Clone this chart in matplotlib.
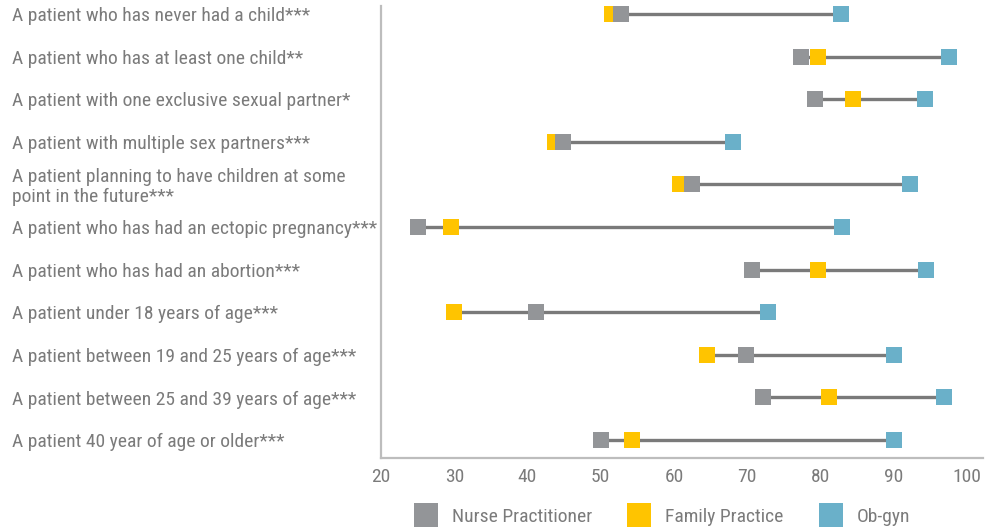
import matplotlib
matplotlib.use('Agg')
import matplotlib.pyplot as plt
from matplotlib.lines import Line2D

# ── Data: share of respondents (%) by specialty ──
categories = [
    'A patient who has never had a child***',
    'A patient who has at least one child**',
    'A patient with one exclusive sexual partner*',
    'A patient with multiple sex partners***',
    'A patient planning to have children at some\npoint in the future***',
    'A patient who has had an ectopic pregnancy***',
    'A patient who has had an abortion***',
    'A patient under 18 years of age***',
    'A patient between 19 and 25 years of age***',
    'A patient between 25 and 39 years of age***',
    'A patient 40 year of age or older***',
]
nurse = [52.7, 77.3, 79.2, 44.9, 62.5, 25.0, 70.6, 41.1, 69.9, 72.1, 50.1]
family = [51.5, 79.6, 84.4, 43.7, 60.8, 29.6, 79.6, 29.9, 64.5, 81.1, 54.3]
obgyn = [82.8, 97.6, 94.3, 68.0, 92.2, 82.9, 94.4, 72.9, 90.1, 96.9, 90.1]
xticks = [20, 30, 40, 50, 60, 70, 80, 90, 100]

# ── Colors ──
c_np = '#939598'
c_fp = '#FFC400'
c_ob = '#6AB0C9'
c_line = '#7a7a7a'
c_text = '#7b7b7b'
c_axis = '#bdbdbd'

FONT = ['Roboto Condensed', 'Liberation Sans', 'DejaVu Sans']
plt.rcParams['font.family'] = FONT

fig = plt.figure(figsize=(9.93, 5.31), dpi=100)
ax = fig.add_axes([0.3837, 0.1375, 0.6063, 0.8513])

rows = list(range(len(categories)))
for i in rows:
    vals = [nurse[i], family[i], obgyn[i]]
    ax.plot([min(vals), max(vals)], [i, i], color=c_line, lw=2.4,
            solid_capstyle='butt', zorder=1)

ms = 11
ax.plot(family, rows, 's', color=c_fp, ms=ms, mew=0, zorder=2)
ax.plot(nurse, rows, 's', color=c_np, ms=ms, mew=0, zorder=3)
ax.plot(obgyn, rows, 's', color=c_ob, ms=ms, mew=0, zorder=4)

ax.set_xlim(20, 102.2)
ax.set_ylim(len(categories) - 1 + 0.42, -0.19)
ax.set_xticks(xticks)
ax.set_xticklabels([str(t) for t in xticks])
ax.set_yticks(rows)
ax.set_yticklabels(categories, ha='left', linespacing=1.1)

ax.tick_params(axis='y', length=0, pad=265.7, labelsize=14, labelcolor=c_text)
ax.tick_params(axis='x', length=0, pad=7, labelsize=14, labelcolor=c_text)

for side in ('top', 'right'):
    ax.spines[side].set_visible(False)
for side in ('left', 'bottom'):
    ax.spines[side].set_color(c_axis)
    ax.spines[side].set_linewidth(1.6)

# ── Legend ──
handles = [
    Line2D([], [], ls='none', marker='s', ms=17, mew=0, color=c_np),
    Line2D([], [], ls='none', marker='s', ms=17, mew=0, color=c_fp),
    Line2D([], [], ls='none', marker='s', ms=17, mew=0, color=c_ob),
]
leg = fig.legend(handles, ['Nurse Practitioner', 'Family Practice', 'Ob-gyn'],
                 loc='center', bbox_to_anchor=(0.667, 0.027), ncol=3,
                 frameon=False, fontsize=14, handletextpad=0.75,
                 columnspacing=1.8, handlelength=1.2)
for t in leg.get_texts():
    t.set_color(c_text)

plt.savefig('out.png', dpi=100, facecolor='white')
